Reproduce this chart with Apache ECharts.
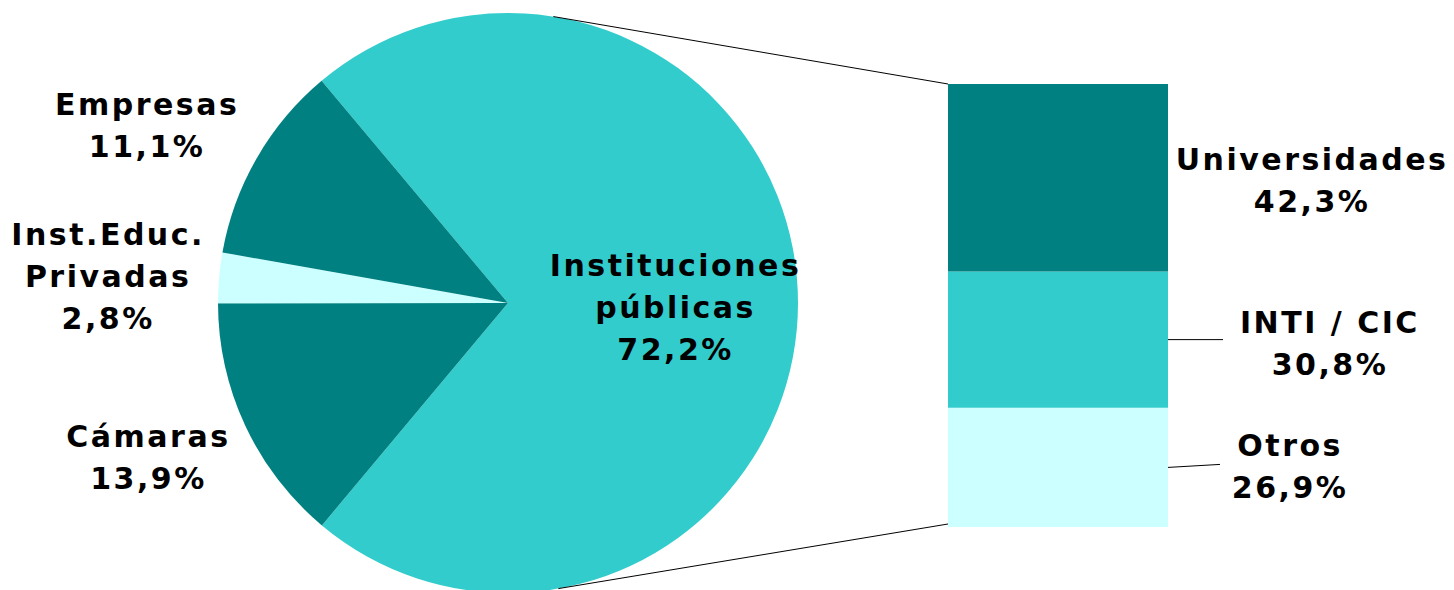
<!DOCTYPE html>
<html><head><meta charset="utf-8">
<script src="https://cdn.jsdelivr.net/npm/echarts@6/dist/echarts.min.js"></script>
<style>
html,body{margin:0;padding:0;background:#fff;}
#chart{width:1454px;height:590px;}
#chart text{letter-spacing:2.5px;}
</style></head><body><div id="chart"></div>
<script>
// ---- data ----
const pieCategories = ['Instituciones públicas', 'Cámaras', 'Inst.Educ. Privadas', 'Empresas'];
const pieValues = [72.2, 13.9, 2.8, 11.1];
const barCategories = ['Otros', 'INTI / CIC', 'Universidades'];
const barValues = [26.9, 30.8, 42.3];

// ---- text / style ----
const pieLabelText = {
  'Instituciones públicas': 'Instituciones\npúblicas',
  'Cámaras': 'Cámaras',
  'Inst.Educ. Privadas': 'Inst.Educ.\nPrivadas',
  'Empresas': 'Empresas'
};
const DARK = '#008080', MID = '#33CCCC', LIGHT = '#CCFFFF';
const pieColors = [MID, DARK, LIGHT, DARK];
const barColors = [LIGHT, MID, DARK];
const FONT = { fontFamily: 'DejaVu Sans', fontWeight: 'bold', fontSize: 30, lineHeight: 42, color: '#000' };

// ---- layout ----
const CX = 508, CY = 303, R = 290, START = 130;
const pieLabelPlace = { // [angle deg ccw from east, distance / radius]
  'Instituciones públicas': [-1.5, 0.578],
  'Cámaras': [203.3, 1.35],
  'Inst.Educ. Privadas': [176.2, 1.382],
  'Empresas': [153.8, 1.387]
};
const GRID = { left: 948, top: 84, width: 220, height: 443 };
const barLabelPos = [['155.5%', '49.6%'], ['173.6%', '53%'], ['165.5%', '51.5%']];

const fmt = v => v.toFixed(1).replace('.', ',') + '%';

const chart = echarts.init(document.getElementById('chart'), null, { renderer: 'svg' });

const series = [{
  type: 'pie',
  center: [CX, CY],
  radius: R,
  startAngle: START,
  clockwise: true,
  avoidLabelOverlap: false,
  silent: true,
  itemStyle: { borderWidth: 0 },
  data: pieCategories.map((n, i) => ({ name: n, value: pieValues[i], itemStyle: { color: pieColors[i] } })),
  label: Object.assign({
    show: true, position: 'outside', width: 320, overflow: 'none', align: 'center',
    formatter: p => pieLabelText[p.name] + '\n' + fmt(p.value)
  }, FONT),
  labelLine: { show: false },
  labelLayout: function (params) {
    const pl = pieLabelPlace[pieCategories[params.dataIndex]];
    const a = pl[0] * Math.PI / 180;
    return { x: CX + pl[1] * R * Math.cos(a), y: CY - pl[1] * R * Math.sin(a), align: 'center', verticalAlign: 'middle' };
  },
  emphasis: { disabled: true }
}];

barCategories.forEach((name, i) => {
  series.push({
    type: 'bar', name: name, stack: 'total', barWidth: '100%',
    xAxisIndex: 0, yAxisIndex: 0, silent: true,
    data: [barValues[i]],
    itemStyle: { color: barColors[i] },
    label: Object.assign({
      show: true, position: barLabelPos[i], align: 'center', verticalAlign: 'middle',
      formatter: p => p.seriesName + '\n' + fmt(p.value)
    }, FONT),
    emphasis: { disabled: true }
  });
});

chart.setOption({
  animation: false,
  backgroundColor: '#fff',
  grid: GRID,
  xAxis: { type: 'category', data: ['a'], show: false },
  yAxis: { type: 'value', min: 0, max: 100, show: false },
  series: series
});

// connector and leader lines, from the library's own scales
const yPx = v => chart.convertToPixel({ yAxisIndex: 0 }, v);
const barLeft = GRID.left, barRight = GRID.left + GRID.width;
const total = barValues.reduce((a, b) => a + b, 0);
const topY = yPx(total), botY = yPx(0);
const pt = deg => [CX + R * Math.cos(deg * Math.PI / 180), CY - R * Math.sin(deg * Math.PI / 180)];
const pTop = pt(81), pBot = pt(-80);
const midInti = yPx(barValues[0] + barValues[1] / 2);
const midOtros = yPx(barValues[0] / 2);
const lineStyle = { stroke: '#000', lineWidth: 1 };
chart.setOption({
  graphic: [
    { type: 'line', z: 10, shape: { x1: pTop[0], y1: pTop[1], x2: barLeft, y2: topY }, style: lineStyle, silent: true },
    { type: 'line', z: 10, shape: { x1: pBot[0], y1: pBot[1], x2: barLeft, y2: botY - 3 }, style: lineStyle, silent: true },
    { type: 'line', z: 10, shape: { x1: barRight, y1: midInti, x2: barRight + 55, y2: midInti }, style: lineStyle, silent: true },
    { type: 'line', z: 10, shape: { x1: barRight, y1: midOtros, x2: barRight + 52, y2: midOtros - 3 }, style: lineStyle, silent: true }
  ]
});
</script></body></html>
